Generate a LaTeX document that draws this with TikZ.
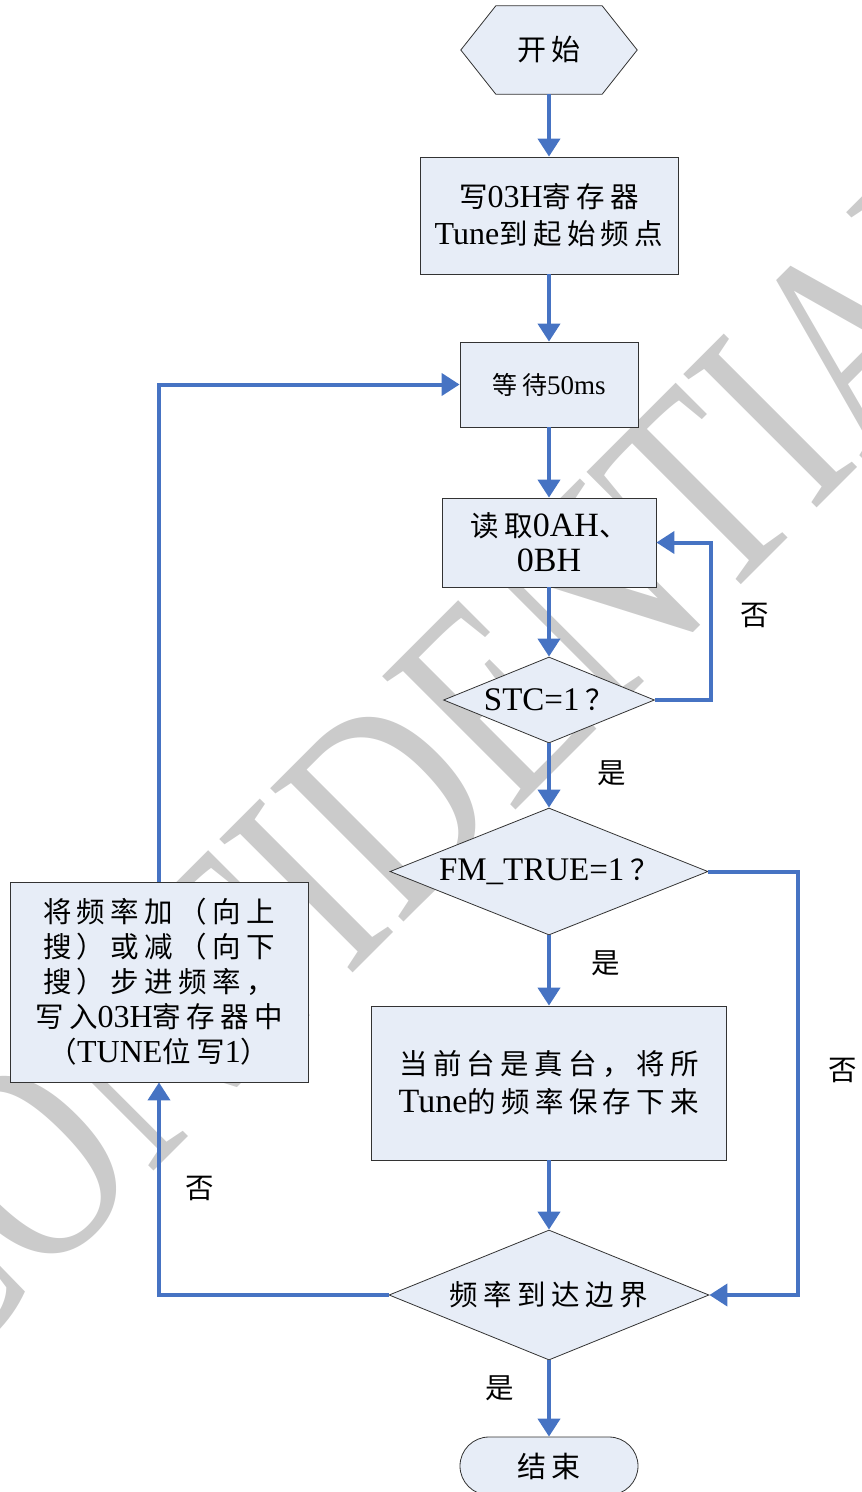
\documentclass[tikz,border=0pt]{standalone}
\usepackage{fontspec}
\setmainfont{Liberation Serif}
\newfontfamily\cjkfont[LetterSpace=19]{Noto Sans CJK SC}
\newcommand\zh[2][28.5]{{\fontsize{#1}{36}\cjkfont #2}}
\usetikzlibrary{arrows.meta,shapes.misc,shapes.geometric,calc}
\definecolor{flowblue}{RGB}{70,115,195}
\definecolor{boxfill}{RGB}{231,237,247}
\definecolor{wmgray}{RGB}{203,203,203}
\begin{document}
\begin{tikzpicture}[x=1pt,y=-1pt,
  box/.style={draw=black!80, line width=0.8pt, fill=boxfill, inner sep=0pt, align=center,
              font=\fontsize{32}{36}\selectfont},
  dia/.style={box, diamond, aspect=2.45, font=\fontsize{33}{36}\selectfont},
  flow/.style={draw=flowblue, line width=4pt, -{Triangle[width=22pt,length=18pt]}},
  lbl/.style={inner sep=0pt}]
\useasboundingbox (0,0) rectangle (862,1492);
\clip (0,0) rectangle (862,1492);

% watermark
\node[rotate=45, xscale=0.76, text=wmgray, inner sep=0pt,
      font=\fontsize{288}{288}\selectfont] (wm) at (436,757) {CONFIDENTIAL};

% start hexagon
\node[inner sep=0pt, minimum width=176pt, minimum height=88pt] (start) at (549,50) {};
\fill[boxfill, draw=black!80, line width=0.8pt]
  (start.west) -- ($(start.north west)+(35,0)$) -- ($(start.north east)+(-35,0)$)
  -- (start.east) -- ($(start.south east)+(-35,0)$) -- ($(start.south west)+(35,0)$) -- cycle;
\node[lbl] at (start) {\zh[29]{开始}};

\node[box, minimum width=258pt, minimum height=117pt, font=\fontsize{32}{37}\selectfont] (b1) at (549,215.5)
  {\zh{写}03H\zh{寄存器}\\Tune\zh{到起始频点}};
\node[box, minimum width=178pt, minimum height=85pt, font=\fontsize{27}{30}\selectfont] (b2) at (549,384.5)
  {\zh[25]{等待}50ms};
\node[box, minimum width=214pt, minimum height=89pt, font=\fontsize{34}{35}\selectfont] (b3) at (549,542.5)
  {\zh{读取}0AH\zh{、}\\0BH};
\node[dia, minimum width=211pt, minimum height=86pt] (stc) at (549,700) {STC=1\hspace{6pt}\zh{？}};
\node[dia, minimum width=318pt, minimum height=127pt] (fm) at (549,871.5) {FM\_TRUE=1\hspace{6pt}\zh{？}};
\node[box, minimum width=355pt, minimum height=154pt, font=\fontsize{34}{38}\selectfont] (b4) at (549,1083)
  {\zh{当前台是真台，将所}\\Tune\zh{的频率保存下来}};
\node[dia, minimum width=320pt, minimum height=130pt] (bd) at (549,1295) {\zh{频率到达边界}};
\node[box, minimum width=298pt, minimum height=200pt, font=\fontsize{32}{35}\selectfont] (b5) at (159,982)
  {\zh{将频率加（向上}\\\zh{搜）或减（向下}\\\zh{搜）步进频率，}\\\zh{写入}03H\zh{寄存器中}\\\zh{（}TUNE\zh{位写}1\zh{）}};
\node[box, rounded rectangle, minimum width=178pt, minimum height=58pt] (end) at (549,1466) {\zh[29]{结束}};

% connectors
\draw[flow] (start.south) -- (b1.north);
\draw[flow] (b1.south) -- (b2.north);
\draw[flow] (b2.south) -- (b3.north);
\draw[flow] (b3.south) -- (stc.north);
\draw[flow] (stc.south) -- (fm.north);
\draw[flow] (fm.south) -- (b4.north);
\draw[flow] (b4.south) -- (bd.north);
\draw[flow] (bd.south) -- (end.north);
\draw[flow] (stc.east) -- ++(56,0) |- (b3.east);
\draw[flow] (fm.east) -- ++(90,0) |- (bd.east);
\draw[flow] (bd.west) -| (b5.south);
\draw[flow] (b5.north) |- (b2.west);

% labels
\node[lbl] (l1) at (755,615) {\zh{否}};
\node[lbl] (l2) at (612,773) {\zh{是}};
\node[lbl] (l3) at (606,963) {\zh{是}};
\node[lbl] (l4) at (843,1070) {\zh{否}};
\node[lbl] (l5) at (200,1188) {\zh{否}};
\node[lbl] (l6) at (500,1388) {\zh{是}};
\end{tikzpicture}
\end{document}
